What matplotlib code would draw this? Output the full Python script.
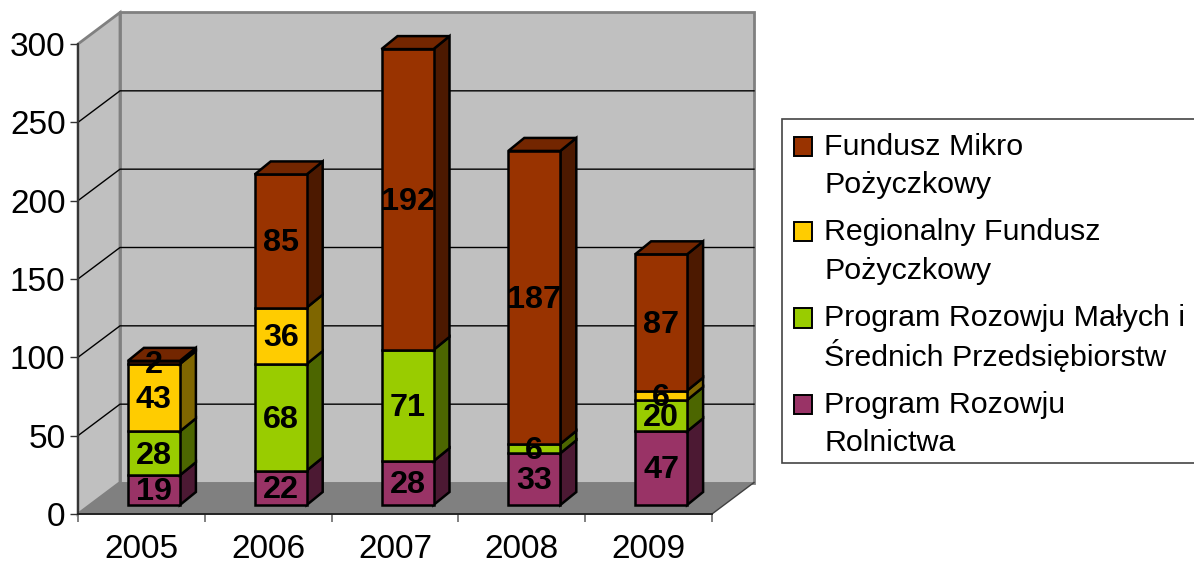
#!/usr/bin/env python3
"""Stacked 3D-look column chart, drawn on a flat matplotlib axes."""

import numpy as np
import matplotlib
matplotlib.use("Agg")
import matplotlib.pyplot as plt  # noqa: E402
from matplotlib.legend_handler import HandlerPatch  # noqa: E402
from matplotlib.patches import Patch, Polygon, Rectangle  # noqa: E402

plt.rcParams["font.family"] = ["Liberation Sans", "DejaVu Sans"]

YEARS = ["2005", "2006", "2007", "2008", "2009"]
ROLNICTWA = [19, 22, 28, 33, 47]
MALE_SREDNIE = [28, 68, 71, 6, 20]
REGIONALNY = [43, 36, 0, 0, 6]
MIKRO = [2, 85, 192, 187, 87]

SERIES = [ROLNICTWA, MALE_SREDNIE, REGIONALNY, MIKRO]
NAMES = [
    "Program Rozowju\nRolnictwa",
    "Program Rozowju Małych i\nŚrednich Przedsiębiorstw",
    "Regionalny Fundusz\nPożyczkowy",
    "Fundusz Mikro\nPożyczkowy",
]
COLORS = ["#993366", "#99CC00", "#FFCC00", "#993300"]
SIDES = ["#4C1933", "#4C6600", "#7F6600", "#4C1900"]
TOPS = ["#732650", "#739900", "#BF9900", "#732600"]
YTICKS = [0, 50, 100, 150, 200, 250, 300]

W, H = 1194, 563
# front plane of the box in pixels
LEFT, RIGHT, BOTTOM, TOP = 78, 712, 514, 44
PX_X = (RIGHT - LEFT) / len(YEARS)
PX_Y = (BOTTOM - TOP) / 300
# depth offsets, converted to data units
WALL_DX, WALL_DY = 42 / PX_X, 31.5 / PX_Y
BAR_X0, BAR_Y0 = 12.5 / PX_X, 9 / PX_Y
BAR_DX, BAR_DY = 16 / PX_X, 13 / PX_Y
BAR_W = 52 / PX_X
GAP = (1 - BAR_W) / 2

WALL = "#C0C0C0"
FLOOR = "#808080"


def poly(ax, pts, fc, ec="black", lw=1.8, z=3):
    ax.add_patch(Polygon(pts, closed=True, fc=fc, ec=ec, lw=lw, zorder=z,
                         clip_on=False, joinstyle="miter"))


def draw_box(ax):
    n = len(YEARS)
    dx, dy = WALL_DX, WALL_DY
    poly(ax, [(0, 0), (n, 0), (n + dx, dy), (dx, dy)], FLOOR, ec="none", z=0.5)
    poly(ax, [(0, 0), (dx, dy), (dx, 300 + dy), (0, 300)], WALL, ec=FLOOR, lw=2, z=0.4)
    poly(ax, [(dx, dy), (n + dx, dy), (n + dx, 300 + dy), (dx, 300 + dy)], WALL, ec=FLOOR, lw=2, z=0.4)
    for v in YTICKS[1:-1]:
        ax.plot([0, dx, n + dx], [v, v + dy, v + dy], color="black", lw=1, zorder=1,
                clip_on=False)
    # thin outline on the open front edge of the floor
    ax.plot([n, n + dx], [0, dy], color="#404040", lw=1, zorder=1, clip_on=False)


def draw_bars(ax):
    for i in range(len(YEARS)):
        x0 = i + GAP + BAR_X0
        x1 = x0 + BAR_W
        base = BAR_Y0
        last = None
        for s, vals in enumerate(SERIES):
            v = vals[i]
            if v == 0:
                continue
            y0, y1 = base, base + v
            poly(ax, [(x1, y0), (x1 + BAR_DX, y0 + BAR_DY),
                      (x1 + BAR_DX, y1 + BAR_DY), (x1, y1)], SIDES[s])
            poly(ax, [(x0, y0), (x1, y0), (x1, y1), (x0, y1)], COLORS[s])
            ax.text((x0 + x1) / 2, (y0 + y1) / 2 + 0.8, str(v), ha="center", va="center_baseline",
                    fontsize=23.3, fontweight="bold", color="black", zorder=6, clip_on=False)
            base = y1
            last = s
        poly(ax, [(x0, base), (x1, base), (x1 + BAR_DX, base + BAR_DY),
                  (x0 + BAR_DX, base + BAR_DY)], TOPS[last])


def first_line_patch(legend, orig_handle, xdescent, ydescent, width, height, fontsize):
    # square sits beside the first line of a two-line label
    return Rectangle((-xdescent - 1.4, -ydescent + 14.5), width, height)


def main():
    fig = plt.figure(figsize=(W / 100, H / 100), dpi=100)
    ax = fig.add_axes([LEFT / W, (H - BOTTOM) / H, (RIGHT - LEFT) / W, (BOTTOM - TOP) / H])
    ax.set_xlim(0, len(YEARS))
    ax.set_ylim(0, 300)
    ax.patch.set_visible(False)
    for side in ("top", "right"):
        ax.spines[side].set_visible(False)
    ax.spines["left"].set_color("#333333")
    ax.spines["left"].set_linewidth(1.4)
    ax.spines["bottom"].set_color("#222222")
    ax.spines["bottom"].set_linewidth(1.4)
    for sp in ax.spines.values():
        sp.set_zorder(2)

    draw_box(ax)
    draw_bars(ax)

    ax.set_yticks(YTICKS)
    ax.tick_params(axis="y", length=6, width=1, color="#333333", labelsize=24, pad=3)
    ax.set_xticks(np.arange(len(YEARS) + 1))
    ax.set_xticklabels([])
    ax.set_xticks(np.arange(len(YEARS)) + 0.5, minor=True)
    ax.set_xticklabels(YEARS, minor=True)
    ax.tick_params(axis="x", which="major", length=6, width=1.4, color=FLOOR)
    ax.tick_params(axis="x", which="minor", length=0, labelsize=24, pad=14.5)

    # legend frame drawn by hand: its right side runs off the picture
    fig.add_artist(Rectangle((782 / W, 1 - 463 / H), 420 / W, 344 / H, transform=fig.transFigure,
                             fc="white", ec="#444444", lw=1.2))
    handles = [Patch(fc=COLORS[s], ec="black", lw=1.4) for s in range(3, -1, -1)]
    leg = fig.legend(handles, NAMES[::-1], loc="upper left",
                     bbox_to_anchor=(782 / W, 1 - 119 / H), borderaxespad=0,
                     fontsize=21.9, frameon=False, handlelength=0.6, handleheight=0.6,
                     handletextpad=0.33, labelspacing=0.63, borderpad=0.46,
                     handler_map={Patch: HandlerPatch(patch_func=first_line_patch)})
    for t in leg.get_texts():
        # the accented capital makes its line taller, so it needs less spacing
        t.set_linespacing(1.25 if "Ś" in t.get_text() else 1.47)

    fig.savefig("out.png", dpi=100)


if __name__ == "__main__":
    main()
